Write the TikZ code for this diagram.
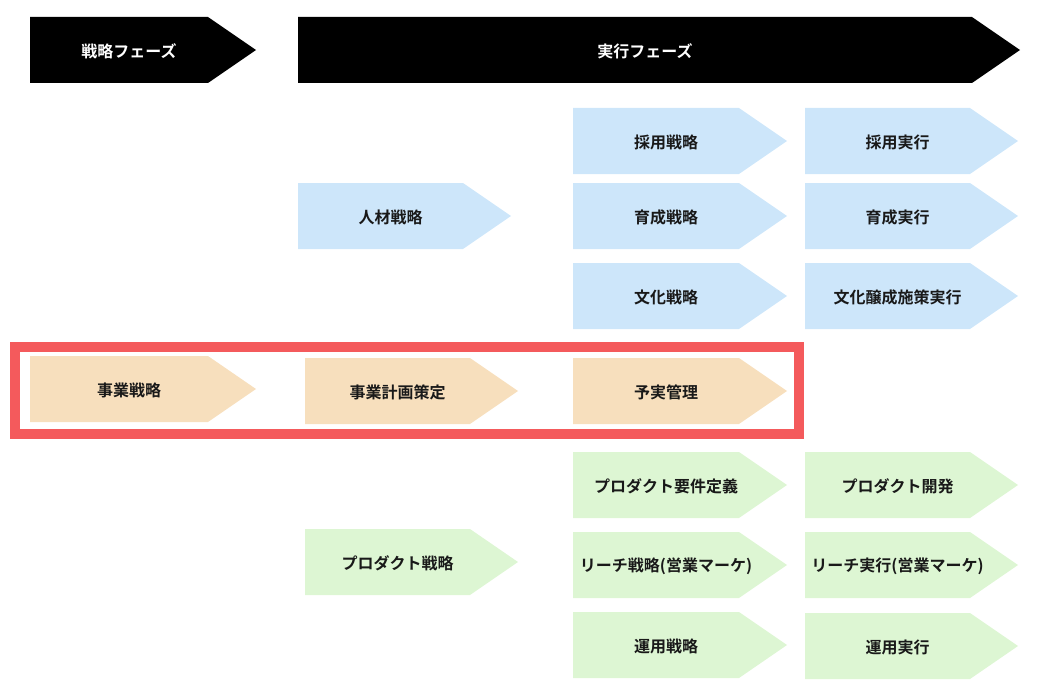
\documentclass[tikz,border=0pt]{standalone}
\usepackage{fontspec}
\setmainfont{Noto Sans CJK JP}[BoldFont={Noto Sans CJK JP Bold}]

\definecolor{jinzai}{HTML}{CDE6FA}
\definecolor{jigyo}{HTML}{F7DFBD}
\definecolor{product}{HTML}{DDF6D3}
\definecolor{waku}{HTML}{F45A5C}

% one phase arrow: style, name, left x, top y, width, text
\newcommand{\phasearrow}[6]{%
  \fill[#1] (#3,#4) -- ++({#5-48},0) -- ++(48,33) -- ++(-48,33) -- ++({48-#5},0) -- cycle;
  \node[#1 text] (#2) at ({#3+(#5-48)/2+10},{#4+34}) {#6};
}

\begin{document}
\begin{tikzpicture}[x=1pt, y=-1pt,
  head/.style={fill=black},
  head text/.style={text=white, font=\fontsize{16}{16}\selectfont\bfseries},
  hr/.style={fill=jinzai},
  hr text/.style={text=black!90, font=\fontsize{16}{16}\selectfont\bfseries},
  biz/.style={fill=jigyo},
  biz text/.style={text=black!90, font=\fontsize{16}{16}\selectfont\bfseries},
  prod/.style={fill=product},
  prod text/.style={text=black!90, font=\fontsize{16}{16}\selectfont\bfseries}]

\useasboundingbox (0,0) rectangle (1046,698);

% phases
\phasearrow{head}{senryaku}{30}{17}{226}{戦略フェーズ}
\phasearrow{head}{jikko}{298}{17}{722}{実行フェーズ}

% human resources
\phasearrow{hr}{jinzaisenryaku}{298}{183}{213}{人材戦略}
\phasearrow{hr}{saiyosenryaku}{573}{108}{214}{採用戦略}
\phasearrow{hr}{ikuseisenryaku}{573}{183}{214}{育成戦略}
\phasearrow{hr}{bunkasenryaku}{573}{263}{214}{文化戦略}
\phasearrow{hr}{saiyojikko}{805}{108}{213}{採用実行}
\phasearrow{hr}{ikuseijikko}{805}{183}{213}{育成実行}
\phasearrow{hr}{bunkajikko}{805}{263}{213}{文化醸成施策実行}

% business
\phasearrow{biz}{jigyosenryaku}{30}{356}{226}{事業戦略}
\phasearrow{biz}{jigyokeikaku}{305}{358}{213}{事業計画策定}
\phasearrow{biz}{yojitsu}{573}{358}{214}{予実管理}

\draw[waku, line width=10pt] (15,347) rectangle (799,433.5);

% product
\phasearrow{prod}{productsenryaku}{305}{529}{213}{プロダクト戦略}
\phasearrow{prod}{yoken}{573}{452}{214}{プロダクト要件定義}
\phasearrow{prod}{reachsenryaku}{573}{532}{214}{リーチ戦略(営業マーケ)}
\phasearrow{prod}{unyosenryaku}{573}{612}{214}{運用戦略}
\phasearrow{prod}{kaihatsu}{805}{452}{213}{プロダクト開発}
\phasearrow{prod}{reachjikko}{805}{532}{213}{リーチ実行(営業マーケ)}
\phasearrow{prod}{unyojikko}{805}{613}{213}{運用実行}

\end{tikzpicture}
\end{document}
